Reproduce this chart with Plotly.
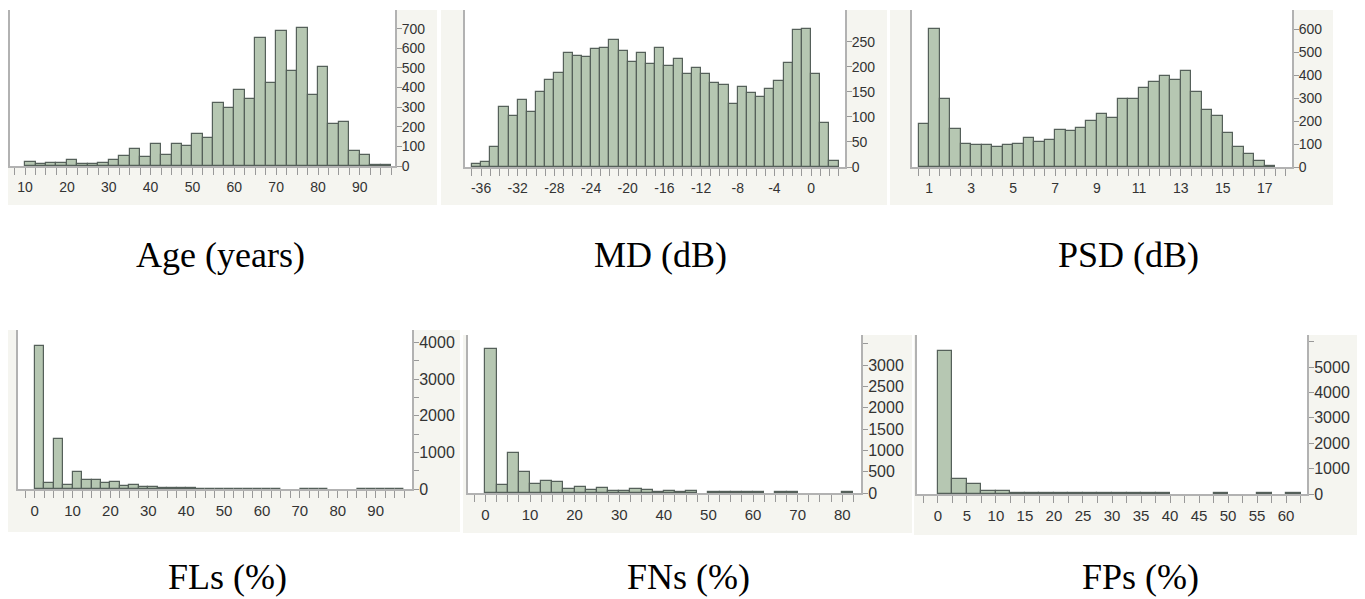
import plotly.graph_objects as go

# ---------------- data (bin left edges and counts) ----------------
age_bins = [10, 12.5, 15, 17.5, 20, 22.5, 25, 27.5, 30, 32.5, 35, 37.5, 40, 42.5, 45, 47.5,
            50, 52.5, 55, 57.5, 60, 62.5, 65, 67.5, 70, 72.5, 75, 77.5, 80, 82.5, 85, 87.5,
            90, 92.5, 95]
age_counts = [20, 8, 15, 15, 33, 12, 12, 17, 33, 50, 89, 48, 111, 58, 110, 104,
              164, 144, 322, 295, 385, 341, 654, 423, 688, 483, 705, 363, 503, 214, 223, 75,
              55, 7, 7]

md_bins = [-37, -36, -35, -34, -33, -32, -31, -30, -29, -28, -27, -26, -25, -24, -23, -22,
           -21, -20, -19, -18, -17, -16, -15, -14, -13, -12, -11, -10, -9, -8, -7, -6,
           -5, -4, -3, -2, -1, 0, 1, 2]
md_counts = [5, 9, 40, 120, 102, 133, 110, 150, 173, 188, 227, 221, 219, 235, 238, 253,
             231, 210, 227, 205, 237, 201, 215, 185, 197, 185, 167, 163, 125, 160, 147, 139,
             155, 171, 208, 273, 275, 185, 87, 12]

psd_bins = [0.5, 1, 1.5, 2, 2.5, 3, 3.5, 4, 4.5, 5, 5.5, 6, 6.5, 7, 7.5, 8, 8.5, 9, 9.5,
            10, 10.5, 11, 11.5, 12, 12.5, 13, 13.5, 14, 14.5, 15, 15.5, 16, 16.5, 17]
psd_counts = [187, 600, 296, 165, 100, 96, 96, 88, 94, 100, 125, 110, 116, 161, 157, 171, 201,
              230, 214, 294, 297, 345, 368, 397, 378, 417, 325, 248, 223, 146, 88, 57, 28, 6]

fl_bins = [0, 2.5, 5, 7.5, 10, 12.5, 15, 17.5, 20, 22.5, 25, 27.5, 30, 32.5, 35, 37.5, 40,
           42.5, 45, 47.5, 50, 52.5, 55, 57.5, 60, 62.5, 65, 67.5, 70, 72.5, 75, 77.5, 80,
           82.5, 85, 87.5, 90, 92.5, 95]
fl_counts = [3900, 155, 1364, 115, 464, 245, 236, 155, 190, 73, 109, 64, 55, 25, 20, 18, 15,
             12, 12, 10, 10, 8, 8, 6, 6, 5, None, None, 5, 5, 5, None, None,
             None, 5, 5, 5, 5, 5]

fn_bins = [0, 2.5, 5, 7.5, 10, 12.5, 15, 17.5, 20, 22.5, 25, 27.5, 30, 32.5, 35, 37.5, 40,
           42.5, 45, 47.5, 50, 52.5, 55, 57.5, 60, 62.5, 65, 67.5, 70, 72.5, 75, 77.5, 80]
fn_counts = [3367, 188, 930, 500, 219, 289, 266, 102, 148, 63, 125, 55, 55, 94, 63, 20, 55,
             25, 55, None, 15, 15, 15, 15, 15, None, 15, 15, None, None, None, None, 15]

fp_bins = [0, 2.5, 5, 7.5, 10, 12.5, 15, 17.5, 20, 22.5, 25, 27.5, 30, 32.5, 35, 37.5, 40,
           42.5, 45, 47.5, 50, 52.5, 55, 57.5, 60]
fp_counts = [5630, 605, 380, 110, 100, 25, 20, 20, 20, 20, 20, 20, 20, 20, 20, 20, None,
             None, None, 20, None, None, 20, None, 20]

# tick labels
age_xticks = [10, 20, 30, 40, 50, 60, 70, 80, 90]
md_xticks = [-36, -32, -28, -24, -20, -16, -12, -8, -4, 0]
psd_xticks = [1, 3, 5, 7, 9, 11, 13, 15, 17]
fl_xticks = [0, 10, 20, 30, 40, 50, 60, 70, 80, 90]
fn_xticks = [0, 10, 20, 30, 40, 50, 60, 70, 80]
fp_xticks = [0, 5, 10, 15, 20, 25, 30, 35, 40, 45, 50, 55, 60]

age_yticks = [0, 100, 200, 300, 400, 500, 600, 700]
md_yticks = [0, 50, 100, 150, 200, 250]
psd_yticks = [0, 100, 200, 300, 400, 500, 600]
fl_yticks = [0, 1000, 2000, 3000, 4000]
fn_yticks = [0, 500, 1000, 1500, 2000, 2500, 3000]
fp_yticks = [0, 1000, 2000, 3000, 4000, 5000]

titles = ["Age (years)", "MD (dB)", "PSD (dB)", "FLs (%)", "FNs (%)", "FPs (%)"]

# ---------------- layout / style ----------------
W, H = 1365, 599
OFF = 8  # page body margin offset
FILL = "#b6c7b2"
EDGE = "#55605a"
STRIP = "#f5f5f0"
AXC = "#b2b2b2"
TXT = "#333333"

panels = [
    dict(bins=age_bins, counts=age_counts, w=2.5, plot=(10, 395, 10, 166), gray=(8, 437, 10, 205),
         xr=[6.4, 98.4], xt=age_xticks, xminor=2.5,
         yr=[0, 795], yt=age_yticks, yminor=None, title_xy=(220, 255), xfs=14, yfs=14),
    dict(bins=md_bins, counts=md_counts, w=1, plot=(465, 845, 10, 167), gray=(441, 887, 10, 205),
         xr=[-37.75, 3.7], xt=md_xticks, xminor=1,
         yr=[0, 313], yt=md_yticks, yminor=None, title_xy=(660, 255), xfs=14, yfs=14),
    dict(bins=psd_bins, counts=psd_counts, w=0.5, plot=(912, 1292, 10, 167), gray=(890, 1333, 10, 205),
         xr=[0.18, 18.3], xt=psd_xticks, xminor=0.5,
         yr=[0, 683], yt=psd_yticks, yminor=None, title_xy=(1128, 255), xfs=14, yfs=14),
    dict(bins=fl_bins, counts=fl_counts, w=2.5, plot=(18, 412, 330, 489), gray=(8, 460, 330, 532),
         xr=[-4.4, 99.6], xt=fl_xticks, xminor=2.5,
         yr=[0, 4345], yt=fl_yticks, yminor=500, title_xy=(227, 577), xfs=15, yfs=16),
    dict(bins=fn_bins, counts=fn_counts, w=2.5, plot=(468, 861, 335, 493), gray=(463, 912, 335, 533),
         xr=[-3.9, 84.2], xt=fn_xticks, xminor=2.5,
         yr=[0, 3703], yt=fn_yticks, yminor=500, title_xy=(688, 577), xfs=15, yfs=16),
    dict(bins=fp_bins, counts=fp_counts, w=2.5, plot=(917, 1307, 335, 494), gray=(914, 1362, 335, 535),
         xr=[-3.6, 63.6], xt=fp_xticks, xminor=2.5,
         yr=[0, 6265], yt=fp_yticks, yminor=1000, title_xy=(1140, 577), xfs=15, yfs=16),
]


def px(x):
    return (x - OFF) / W


def py(y):
    return 1 - (y - OFF) / H


fig = go.Figure()
shapes = []
annotations = []
layout_axes = {}

for i, p in enumerate(panels, 1):
    xs = [b + p["w"] / 2 for b in p["bins"]]
    fig.add_trace(go.Bar(
        x=xs, y=p["counts"], width=p["w"],
        xaxis=f"x{i}", yaxis=f"y{i}",
        marker=dict(color=FILL, line=dict(color=EDGE, width=1.2)),
        showlegend=False, hoverinfo="skip",
    ))
    x0, x1, y0, y1 = p["plot"]
    gx0, gx1, gy0, gy1 = p["gray"]
    shapes.append(dict(type="rect", xref="paper", yref="paper", layer="below",
                       x0=max(px(gx0), 0), x1=px(gx1), y0=py(gy1), y1=py(gy0),
                       fillcolor=STRIP, line=dict(width=0)))
    shapes.append(dict(type="rect", xref="paper", yref="paper", layer="below",
                       x0=px(x0), x1=px(x1), y0=py(y1), y1=py(y0),
                       fillcolor="white", line=dict(width=0)))
    xa = dict(domain=[px(x0), px(x1)], range=p["xr"], anchor=f"y{i}",
              showgrid=False, zeroline=False, showline=True, linecolor=AXC, linewidth=2,
              ticks="outside", ticklen=7, tickcolor="#999999", tickwidth=1,
              tickmode="array", tickvals=p["xt"], ticktext=[str(v) for v in p["xt"]],
              minor=dict(dtick=p["xminor"], tick0=0, ticks="outside", ticklen=7,
                         tickcolor="#999999", tickwidth=1, showgrid=False),
              tickfont=dict(family="Liberation Sans, Arial, sans-serif", size=p["xfs"], color=TXT),
              fixedrange=True, automargin=False)
    ya = dict(domain=[py(y1), py(y0)], range=p["yr"], anchor=f"x{i}", side="right",
              showgrid=False, zeroline=False, showline=True, mirror=True, linecolor=AXC, linewidth=2,
              ticks="outside", ticklen=5, tickcolor="#999999", tickwidth=1,
              tickmode="array", tickvals=p["yt"], ticktext=[str(v) for v in p["yt"]],
              ticklabelstandoff=-3,
              tickfont=dict(family="Liberation Sans, Arial, sans-serif", size=p["yfs"], color=TXT),
              fixedrange=True, automargin=False)
    if p["yminor"]:
        ya["minor"] = dict(dtick=p["yminor"], tick0=0, ticks="outside", ticklen=5,
                           tickcolor="#999999", tickwidth=1, showgrid=False)
    layout_axes[f"xaxis{i}" if i > 1 else "xaxis"] = xa
    layout_axes[f"yaxis{i}" if i > 1 else "yaxis"] = ya
    tx, ty = p["title_xy"]
    annotations.append(dict(text=titles[i - 1], xref="paper", yref="paper",
                            x=px(tx), y=py(ty), xanchor="center", yanchor="middle",
                            showarrow=False,
                            font=dict(family="Liberation Serif, Times New Roman, serif",
                                      size=36, color="black")))

fig.update_layout(
    template="none",
    width=W, height=H, autosize=False,
    margin=dict(l=0, r=0, t=0, b=0, pad=0),
    paper_bgcolor="white", plot_bgcolor="white",
    bargap=0, barmode="overlay",
    shapes=shapes, annotations=annotations,
    **layout_axes,
)

fig.write_html("out.html", config={"displayModeBar": False})
